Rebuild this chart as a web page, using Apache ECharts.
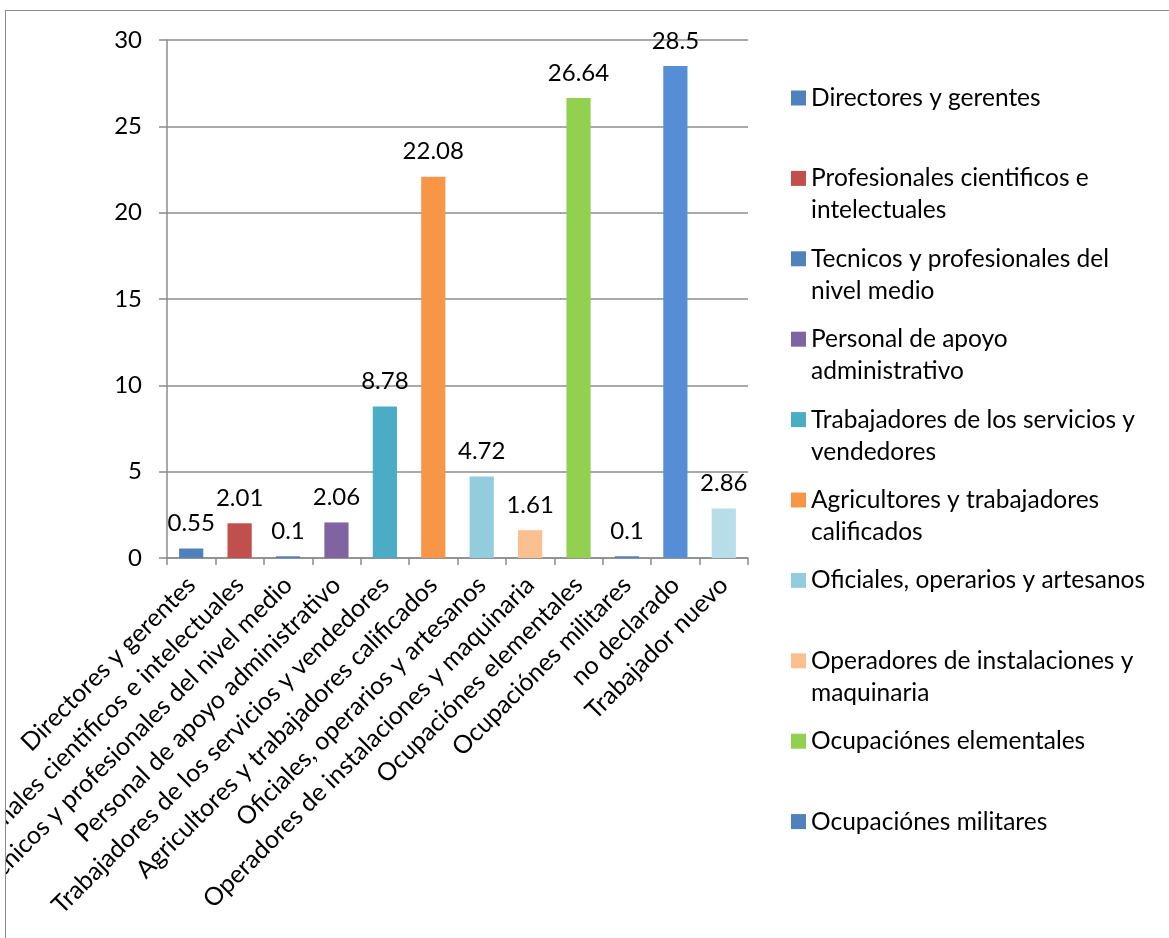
<!DOCTYPE html>
<html>
<head>
<meta charset="utf-8">
<script src="https://cdn.jsdelivr.net/npm/echarts@6/dist/echarts.min.js"></script>
<style>
  html, body { margin: 0; padding: 0; background: #fff; }
  #frame {
    position: absolute; left: 5px; top: 10px;
    width: 1164px; height: 928px;
    border-left: 1.5px solid #8c8c8c; border-top: 1.5px solid #8c8c8c;
    overflow: hidden;
  }
  #chart { width: 1163px; height: 927px; }
</style>
</head>
<body>
<div id="frame"><div id="chart"></div></div>
<script>
// categorias del eje x
var categorias = [
  'Directores y gerentes',
  'Profesionales cientificos e intelectuales',
  'Tecnicos y profesionales del nivel medio',
  'Personal de apoyo administrativo',
  'Trabajadores de los servicios y vendedores',
  'Agricultores y trabajadores calificados',
  'Oficiales, operarios y artesanos',
  'Operadores de instalaciones y maquinaria',
  'Ocupaciónes elementales',
  'Ocupaciónes militares',
  'no declarado',
  'Trabajador nuevo'
];
var valores = [0.55, 2.01, 0.1, 2.06, 8.78, 22.08, 4.72, 1.61, 26.64, 0.1, 28.5, 2.86];
var colores = ['#4F81BD', '#C0504D', '#4F81BD', '#8064A2', '#4BACC6', '#F79646',
               '#93CDDD', '#FAC090', '#92D050', '#4F81BD', '#558ED5', '#B7DEE8'];
// texto de la leyenda (solo las 10 primeras, como en el original)
var leyenda = [
  'Directores y gerentes',
  'Profesionales cientificos e\nintelectuales',
  'Tecnicos y profesionales del\nnivel medio',
  'Personal de apoyo\nadministrativo',
  'Trabajadores de los servicios y\nvendedores',
  'Agricultores y trabajadores\ncalificados',
  'Oficiales, operarios y artesanos',
  'Operadores de instalaciones y\nmaquinaria',
  'Ocupaciónes elementales',
  'Ocupaciónes militares'
];
var ejeY = { min: 0, max: 30, interval: 5 };

var fuente = 'Lato, "Open Sans", sans-serif';
var gris = '#8c8c8c';
var tam = 24;

var myechart = echarts.init(document.getElementById('chart'));

var series = categorias.map(function (nombre, i) {
  return {
    name: nombre,
    type: 'bar',
    stack: 'total',
    barWidth: '50%',
    itemStyle: { color: colores[i] },
    label: {
      show: true,
      position: 'top',
      distance: 13,
      color: '#000',
      fontFamily: fuente,
      fontSize: tam
    },
    data: valores.map(function (v, j) { return j === i ? v : '-'; })
  };
});

var leyendas = leyenda.map(function (txt, i) {
  var dosLineas = txt.indexOf('\n') >= 0;
  // linea vacia delante para que el cuadro quede junto a la primera linea
  var texto = dosLineas ? '\n' + txt : txt;
  return {
    data: [categorias[i]],
    left: 785,
    top: 71 + i * 80.4 - (dosLineas ? 32 : 0),
    icon: 'rect',
    itemWidth: 15,
    itemHeight: 15,
    selectedMode: false,
    padding: 0,
    formatter: function () { return texto; },
    textStyle: {
      color: '#000',
      fontFamily: fuente,
      fontSize: 24.5,
      lineHeight: 32
    }
  };
});

myechart.setOption({
  animation: false,
  textStyle: { fontFamily: fuente },
  grid: { left: 161, top: 29, right: 421, bottom: 380, containLabel: false, outerBoundsMode: 'none' },
  legend: leyendas,
  xAxis: {
    type: 'category',
    data: categorias,
    axisLine: { lineStyle: { color: gris, width: 1.5 } },
    axisTick: { show: true, length: 7, lineStyle: { color: gris, width: 1.5 } },
    axisLabel: {
      interval: 0,
      rotate: 45,
      margin: 23,
      color: '#000',
      fontFamily: fuente,
      fontSize: 25
    }
  },
  yAxis: {
    type: 'value',
    min: ejeY.min,
    max: ejeY.max,
    interval: ejeY.interval,
    axisLine: { show: true, lineStyle: { color: gris, width: 1.5 } },
    axisTick: { show: true, length: 8, lineStyle: { color: gris, width: 1.5 } },
    splitLine: { lineStyle: { color: gris, width: 1.5 } },
    axisLabel: {
      margin: 25,
      color: '#000',
      fontFamily: fuente,
      fontSize: tam
    }
  },
  series: series
});
</script>
</body>
</html>
